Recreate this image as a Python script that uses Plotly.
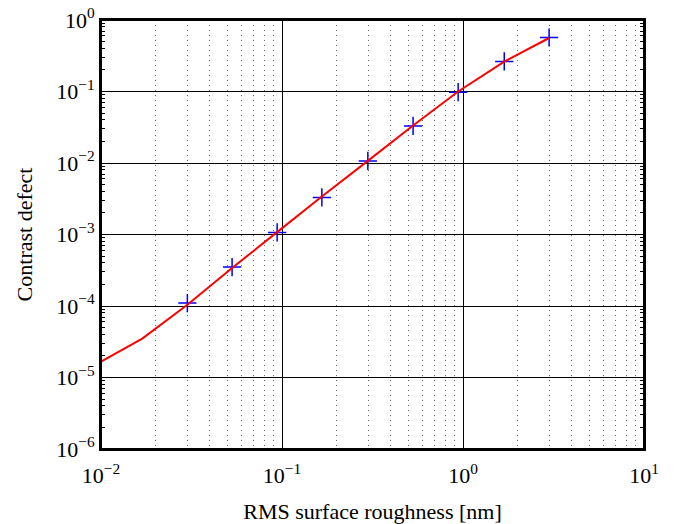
import plotly.graph_objects as go

# Data
marker_x = [0.030, 0.053, 0.094, 0.166, 0.298, 0.53, 0.94, 1.69, 2.99]
marker_y = [1.1e-4, 3.5e-4, 1.07e-3, 3.3e-3, 1.07e-2, 3.3e-2, 0.098, 0.263, 0.569]

line_x = [0.01, 0.0169, 0.030, 0.053, 0.094, 0.166, 0.298, 0.53, 0.94, 1.69, 2.99]
line_y = [1.67e-5, 3.5e-5, 1.04e-4, 3.4e-4, 1.08e-3, 3.4e-3, 1.07e-2, 3.35e-2, 0.1, 0.262, 0.56]

x_tickvals = [0.01, 0.1, 1, 10]
x_ticktext = ["10<sup>−2</sup>", "10<sup>−1</sup>", "10<sup>0</sup>", "10<sup>1</sup>"]
y_tickvals = [1e-6, 1e-5, 1e-4, 1e-3, 1e-2, 1e-1, 1]
y_ticktext = ["10<sup>−6</sup>", "10<sup>−5</sup>", "10<sup>−4</sup>", "10<sup>−3</sup>",
              "10<sup>−2</sup>", "10<sup>−1</sup>", "10<sup>0</sup>"]

x_minor = [m * 10.0 ** e for e in range(-2, 1) for m in range(2, 10)]
y_minor = [m * 10.0 ** e for e in range(-6, 0) for m in range(2, 10)]

fig = go.Figure()
fig.add_trace(go.Scatter(
    x=marker_x, y=marker_y, mode="markers",
    marker=dict(symbol="cross-thin", size=13, line=dict(color="#0000ff", width=1.5)),
    showlegend=False,
))
fig.add_trace(go.Scatter(
    x=line_x, y=line_y, mode="lines",
    line=dict(color="#ff0000", width=2),
    showlegend=False,
))

font_family = "'Liberation Serif', 'Times New Roman', 'DejaVu Serif', serif"
axis_common = dict(
    type="log",
    automargin=False,
    ticklabeloverflow="allow",
    showline=True, linecolor="black", linewidth=2, mirror="allticks",
    ticks="inside", ticklen=6, tickcolor="black", tickwidth=1,
    showgrid=True, gridcolor="black", gridwidth=1,
    zeroline=False,
    tickmode="array",
    tickfont=dict(family=font_family, size=22, color="black"),
)

fig.update_xaxes(
    **axis_common,
    range=[-2, 1],
    tickvals=x_tickvals, ticktext=x_ticktext,
    ticklabelstandoff=6,
    minor=dict(tickmode="array", tickvals=x_minor, showgrid=True, griddash="1px,4px",
               gridcolor="#666666", gridwidth=1, ticks=""),
    title=dict(text="RMS surface roughness [nm]", font=dict(family=font_family, size=22, color="black"),
               standoff=22),
)
fig.update_yaxes(
    **axis_common,
    range=[-6, 0],
    tickvals=y_tickvals, ticktext=y_ticktext,
    minor=dict(tickmode="array", tickvals=y_minor, showgrid=False,
               ticks="inside", ticklen=4, tickwidth=1, tickcolor="black"),
    title=dict(text="Contrast defect", font=dict(family=font_family, size=22, color="black"),
               standoff=18),
)

# frame around the plotting area
fig.add_shape(type="rect", xref="paper", yref="paper", x0=0, y0=0, x1=1, y1=1,
              line=dict(color="black", width=2), layer="above")

fig.update_layout(
    width=681, height=524,
    margin=dict(l=101, r=37, t=20, b=75),
    plot_bgcolor="white", paper_bgcolor="white",
)

# remove the default page body margin so the figure sits at the window origin
fig.write_html("out.html",
               config={"displayModeBar": False},
               post_script="document.body.style.margin='0';document.body.style.overflow='hidden';")
